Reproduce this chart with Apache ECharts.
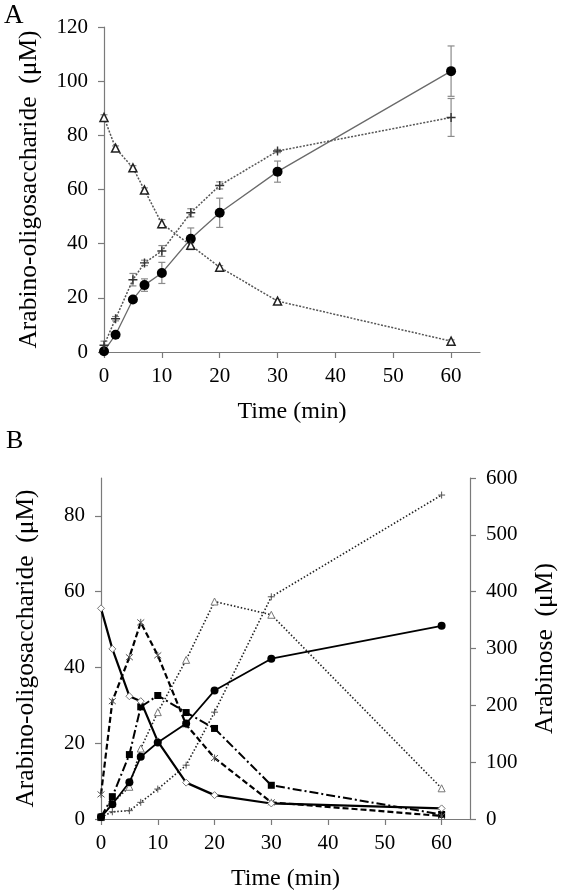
<!DOCTYPE html>
<html><head><meta charset="utf-8">
<script src="https://cdn.jsdelivr.net/npm/echarts@6/dist/echarts.min.js"></script>
<style>html,body{margin:0;padding:0;background:#fff}#c{width:566px;height:892px}</style>
</head><body><div id="c"></div>
<script>
// ---- Panel A data ----
const timesA = [0, 2, 5, 7, 10, 15, 20, 30, 60];
const aCircle = [0.3, 6.4, 19.4, 24.7, 29.2, 41.8, 51.4, 66.6, 103.7];
const aCircleErr = [0.4, 0.8, 1.0, 2.3, 3.9, 4.0, 5.4, 3.9, 9.3];
const aPlus = [2.5, 12.3, 26.7, 32.9, 37.3, 51.4, 61.5, 74.2, 86.6];
const aPlusErr = [1.5, 0.8, 2.3, 1.0, 2.0, 1.5, 1.3, 0.6, 7.0];
const aTri = [86.6, 75.3, 68.0, 59.8, 47.4, 39.4, 31.3, 18.8, 4.0];
const aTriErr = [1.0, 0.8, 0.8, 0.8, 1.5, 0.8, 0.6, 0.6, 0.5];
const ticksAY = [0, 20, 40, 60, 80, 100, 120];
const ticksX = [0, 10, 20, 30, 40, 50, 60];
// ---- Panel B data ----
const timesB = [0, 2, 5, 7, 10, 15, 20, 30, 60];
const bCircle = [0.5, 3.9, 9.7, 16.4, 20.2, 25.2, 33.9, 42.3, 51.0];
const bDiamond = [55.6, 44.9, 32.4, 31.1, 20.5, 9.6, 6.3, 4.1, 2.8];
const bStar = [6.5, 31.1, 42.7, 51.9, 43.2, 24.9, 16.1, 4.4, 0.8];
const bSquare = [0.5, 5.9, 17.0, 29.6, 32.6, 28.1, 23.9, 8.9, 1.2];
const bTri = [0.5, 4.2, 8.5, 18.6, 28.2, 42.0, 57.4, 53.9, 8.1];
const bArabinose = [3, 12.7, 14.7, 29.3, 52.7, 94.7, 188, 391, 570];
const ticksBLeft = [0, 20, 40, 60, 80];
const ticksBRight = [0, 100, 200, 300, 400, 500, 600];

const FONT = '"Liberation Serif", "Times New Roman", serif';
const AX = '#7a7a7a';
const plusPath = 'path://M0,-1L0,1M-1,0L1,0';
const starPath = 'path://M-1,-1L1,1M-1,1L1,-1M0,-1.2L0,1.2';

function pairs(t, v) { return t.map((x, i) => [x, v[i]]); }
function errSeries(xi, yi, t, v, e, color) {
  return {
    type: 'custom', xAxisIndex: xi, yAxisIndex: yi, z: 1, silent: true,
    data: t.map((x, i) => [x, v[i] - e[i], v[i] + e[i]]),
    renderItem(params, api) {
      const x = api.value(0);
      const lo = api.coord([x, api.value(1)]);
      const hi = api.coord([x, api.value(2)]);
      const w = 3.5;
      const st = { stroke: color, lineWidth: 1.2 };
      return { type: 'group', children: [
        { type: 'line', shape: { x1: lo[0], y1: lo[1], x2: hi[0], y2: hi[1] }, style: st },
        { type: 'line', shape: { x1: lo[0] - w, y1: lo[1], x2: lo[0] + w, y2: lo[1] }, style: st },
        { type: 'line', shape: { x1: hi[0] - w, y1: hi[1], x2: hi[0] + w, y2: hi[1] }, style: st }
      ] };
    }
  };
}
function xAxisDef(gi) {
  return {
    type: 'value', gridIndex: gi, min: 0, max: 65, interval: 10,
    name: 'Time (min)', nameLocation: 'middle', nameGap: 48,
    nameTextStyle: { fontFamily: FONT, fontSize: 24, color: '#000' },
    axisLine: { onZero: false, lineStyle: { color: AX, width: 1.2 } },
    axisTick: { length: 6, lineStyle: { color: AX, width: 1.2 }, customValues: ticksX },
    axisLabel: { fontFamily: FONT, fontSize: 21, color: '#000', margin: 14, customValues: ticksX },
    splitLine: { show: false }
  };
}
const yTitleStyle = { fontFamily: FONT, fontSize: 25.5, color: '#000' };

const option = {
  animation: false,
  backgroundColor: '#fff',
  graphic: [
    { type: 'text', left: 4, top: 2, style: { text: 'A', font: '27px "Liberation Serif"', fill: '#000' } },
    { type: 'text', left: 6, top: 428, style: { text: 'B', font: '26px "Liberation Serif"', fill: '#000' } }
  ],
  grid: [
    { left: 104, top: 27, width: 376, height: 325 },
    { left: 101, top: 478, width: 372, height: 341 }
  ],
  xAxis: [xAxisDef(0), xAxisDef(1)],
  yAxis: [
    {
      type: 'value', gridIndex: 0, min: 0, max: 120, interval: 20,
      name: 'Arabino-oligosaccharide  (μM)', nameLocation: 'middle', nameGap: 62,
      nameTextStyle: yTitleStyle,
      axisLine: { show: true, lineStyle: { color: AX, width: 1.2 } },
      axisTick: { show: true, length: 6, lineStyle: { color: AX, width: 1.2 } },
      axisLabel: { fontFamily: FONT, fontSize: 21, color: '#000', margin: 16 },
      splitLine: { show: false }
    },
    {
      type: 'value', gridIndex: 1, min: 0, max: 90,
      name: 'Arabino-oligosaccharide  (μM)', nameLocation: 'middle', nameGap: 62,
      nameTextStyle: yTitleStyle,
      axisLine: { show: true, lineStyle: { color: AX, width: 1.2 } },
      axisTick: { show: true, length: 6, lineStyle: { color: AX, width: 1.2 }, customValues: ticksBLeft },
      axisLabel: { fontFamily: FONT, fontSize: 21, color: '#000', margin: 16, customValues: ticksBLeft },
      splitLine: { show: false }
    },
    {
      type: 'value', gridIndex: 1, position: 'right', min: 0, max: 600, interval: 100,
      name: 'Arabinose  (μM)', nameLocation: 'middle', nameGap: 62, nameRotate: 90,
      nameTextStyle: yTitleStyle,
      axisLine: { show: true, lineStyle: { color: AX, width: 1.2 } },
      axisTick: { show: true, length: 6, lineStyle: { color: AX, width: 1.2 } },
      axisLabel: { fontFamily: FONT, fontSize: 21, color: '#000', margin: 16 },
      splitLine: { show: false }
    }
  ],
  series: [
    // Panel A error bars
    errSeries(0, 0, timesA, aCircle, aCircleErr, '#8a8a8a'),
    errSeries(0, 0, timesA, aPlus, aPlusErr, '#8a8a8a'),
    errSeries(0, 0, timesA, aTri, aTriErr, '#8a8a8a'),
    { type: 'line', xAxisIndex: 0, yAxisIndex: 0, data: pairs(timesA, aCircle), z: 3,
      lineStyle: { color: '#6a6a6a', width: 1.3 }, symbol: 'circle', symbolSize: 10,
      itemStyle: { color: '#000', borderWidth: 0 } },
    { type: 'line', xAxisIndex: 0, yAxisIndex: 0, data: pairs(timesA, aPlus), z: 3,
      lineStyle: { color: '#555', width: 1.5, type: [2, 1.5] }, symbol: plusPath, symbolSize: 9,
      itemStyle: { color: 'none', borderColor: '#333', borderWidth: 1.4 } },
    { type: 'line', xAxisIndex: 0, yAxisIndex: 0, data: pairs(timesA, aTri), z: 3,
      lineStyle: { color: '#555', width: 1.5, type: [2, 1.5] }, symbol: 'triangle', symbolSize: 8,
      itemStyle: { color: '#fff', borderColor: '#222', borderWidth: 1.5 } },
    // Panel B
    { type: 'line', xAxisIndex: 1, yAxisIndex: 2, data: pairs(timesB, bArabinose), z: 3,
      lineStyle: { color: '#222', width: 1.6, type: [1.5, 2] }, symbol: plusPath, symbolSize: 7,
      itemStyle: { color: 'none', borderColor: '#555', borderWidth: 1 } },
    { type: 'line', xAxisIndex: 1, yAxisIndex: 1, data: pairs(timesB, bTri), z: 3,
      lineStyle: { color: '#222', width: 1.6, type: [1.5, 2] }, symbol: 'triangle', symbolSize: 7,
      itemStyle: { color: '#fff', borderColor: '#777', borderWidth: 1 } },
    { type: 'line', xAxisIndex: 1, yAxisIndex: 1, data: pairs(timesB, bSquare), z: 4,
      lineStyle: { color: '#000', width: 2, type: [9, 3, 2, 3] }, symbol: 'rect', symbolSize: 7,
      itemStyle: { color: '#000' } },
    { type: 'line', xAxisIndex: 1, yAxisIndex: 1, data: pairs(timesB, bStar), z: 4,
      lineStyle: { color: '#000', width: 2.2, type: [6, 3] }, symbol: starPath, symbolSize: 7,
      itemStyle: { color: 'none', borderColor: '#555', borderWidth: 1 } },
    { type: 'line', xAxisIndex: 1, yAxisIndex: 1, data: pairs(timesB, bDiamond), z: 4,
      lineStyle: { color: '#000', width: 2.2 }, symbol: 'diamond', symbolSize: 7,
      itemStyle: { color: '#fff', borderColor: '#777', borderWidth: 1 } },
    { type: 'line', xAxisIndex: 1, yAxisIndex: 1, data: pairs(timesB, bCircle), z: 5,
      lineStyle: { color: '#000', width: 1.8 }, symbol: 'circle', symbolSize: 8,
      itemStyle: { color: '#000', borderWidth: 0 } }
  ]
};
const chart = echarts.init(document.getElementById('c'), null, { renderer: 'canvas' });
chart.setOption(option);
</script>
</body></html>
